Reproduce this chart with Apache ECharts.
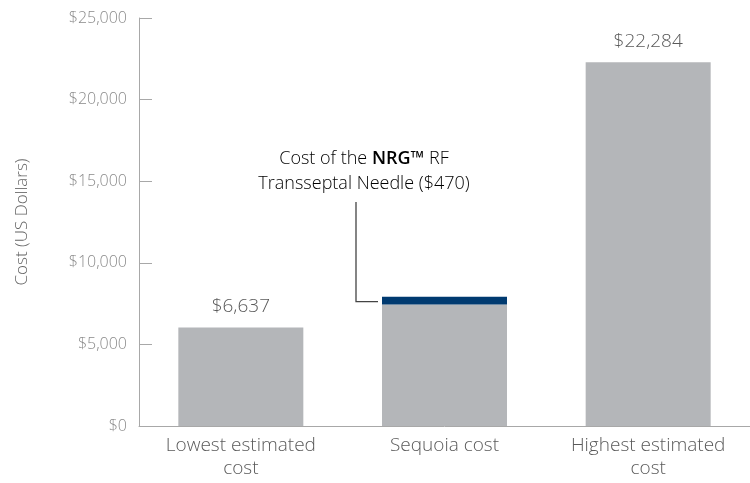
<!DOCTYPE html>
<html>
<head>
<meta charset="utf-8">
<script src="https://cdn.jsdelivr.net/npm/echarts@6/dist/echarts.min.js"></script>
<style>
  html, body { margin: 0; padding: 0; background: #fff; }
  #chart { width: 750px; height: 483px; }
</style>
</head>
<body>
<div id="chart"></div>
<script>
// values
var categories = ['Lowest estimated\ncost', 'Sequoia cost', 'Highest estimated\ncost']
var baseCost = [6030, 7450, 22290]
var needleCost = [null, 470, null]
var valueLabels = ['$6,637', '', '$22,284']
var yTicks = [0, 5000, 10000, 15000, 20000, 25000]

var FONT = '"Open Sans", "Noto Sans", sans-serif'
var GRAY = '#b4b6b9'
var NAVY = '#003a70'
var TEXT = '#5a5a5a'

var chart = echarts.init(document.getElementById('chart'))

chart.setOption({
  animation: false,
  grid: {
    left: 139,
    right: 0,
    top: 18,
    bottom: 57
  },
  xAxis: {
    type: 'category',
    data: categories,
    axisLine: { lineStyle: { color: '#a8a8a8', width: 1 } },
    axisTick: { show: false },
    axisLabel: {
      color: TEXT,
      fontFamily: FONT,
      fontWeight: 300,
      fontSize: 19,
      lineHeight: 23,
      margin: 8
    }
  },
  yAxis: {
    type: 'value',
    min: yTicks[0],
    max: yTicks[yTicks.length - 1],
    interval: yTicks[1] - yTicks[0],
    name: 'Cost (US Dollars)',
    nameLocation: 'middle',
    nameGap: 108,
    nameTextStyle: { color: '#666', fontFamily: FONT, fontWeight: 300, fontSize: 17 },
    axisLine: { show: true, lineStyle: { color: '#a8a8a8' } },
    axisTick: { show: true, inside: true, length: 13, lineStyle: { color: '#a8a8a8' } },
    splitLine: { show: false },
    axisLabel: {
      color: '#8a8a8a',
      fontFamily: FONT,
      fontWeight: 300,
      fontSize: 16,
      margin: 12,
      formatter: function (v) { return '$' + v.toLocaleString('en-US') }
    }
  },
  series: [
    {
      type: 'bar',
      stack: 'cost',
      data: baseCost,
      barWidth: 125,
      itemStyle: { color: GRAY },
      label: {
        show: true,
        position: 'top',
        distance: 11,
        color: TEXT,
        fontFamily: FONT,
        fontWeight: 300,
        fontSize: 19,
        formatter: function (p) { return valueLabels[p.dataIndex] }
      }
    },
    {
      type: 'bar',
      stack: 'cost',
      data: needleCost,
      barWidth: 125,
      itemStyle: { color: NAVY }
    }
  ]
})

// callout for the needle segment, placed from the axis scale
function drawCallout() {
  var idx = 1
  var mid = baseCost[idx] + needleCost[idx] / 2
  var pt = chart.convertToPixel({ seriesIndex: 1 }, [idx, mid])
  var barLeft = pt[0] - 125 / 2
  var lineX = barLeft - 26
  chart.setOption({
    graphic: [
      {
        type: 'polyline',
        shape: { points: [[lineX, 202], [lineX, pt[1] + 1], [barLeft - 4, pt[1] + 1]] },
        style: { stroke: '#444', lineWidth: 1.3, fill: null }
      },
      {
        type: 'text',
        x: 364,
        y: 171,
        style: {
          text: '{n|Cost of the }{b|NRG™}{n| RF}\n{n|Transseptal Needle ($470)}',
          align: 'center',
          verticalAlign: 'middle',
          rich: {
            n: { fontFamily: FONT, fontWeight: 300, fontSize: 18, color: TEXT, lineHeight: 25 },
            b: { fontFamily: FONT, fontWeight: 600, fontSize: 18, color: TEXT, lineHeight: 25 }
          }
        }
      }
    ]
  })
}
drawCallout()
</script>
</body>
</html>
